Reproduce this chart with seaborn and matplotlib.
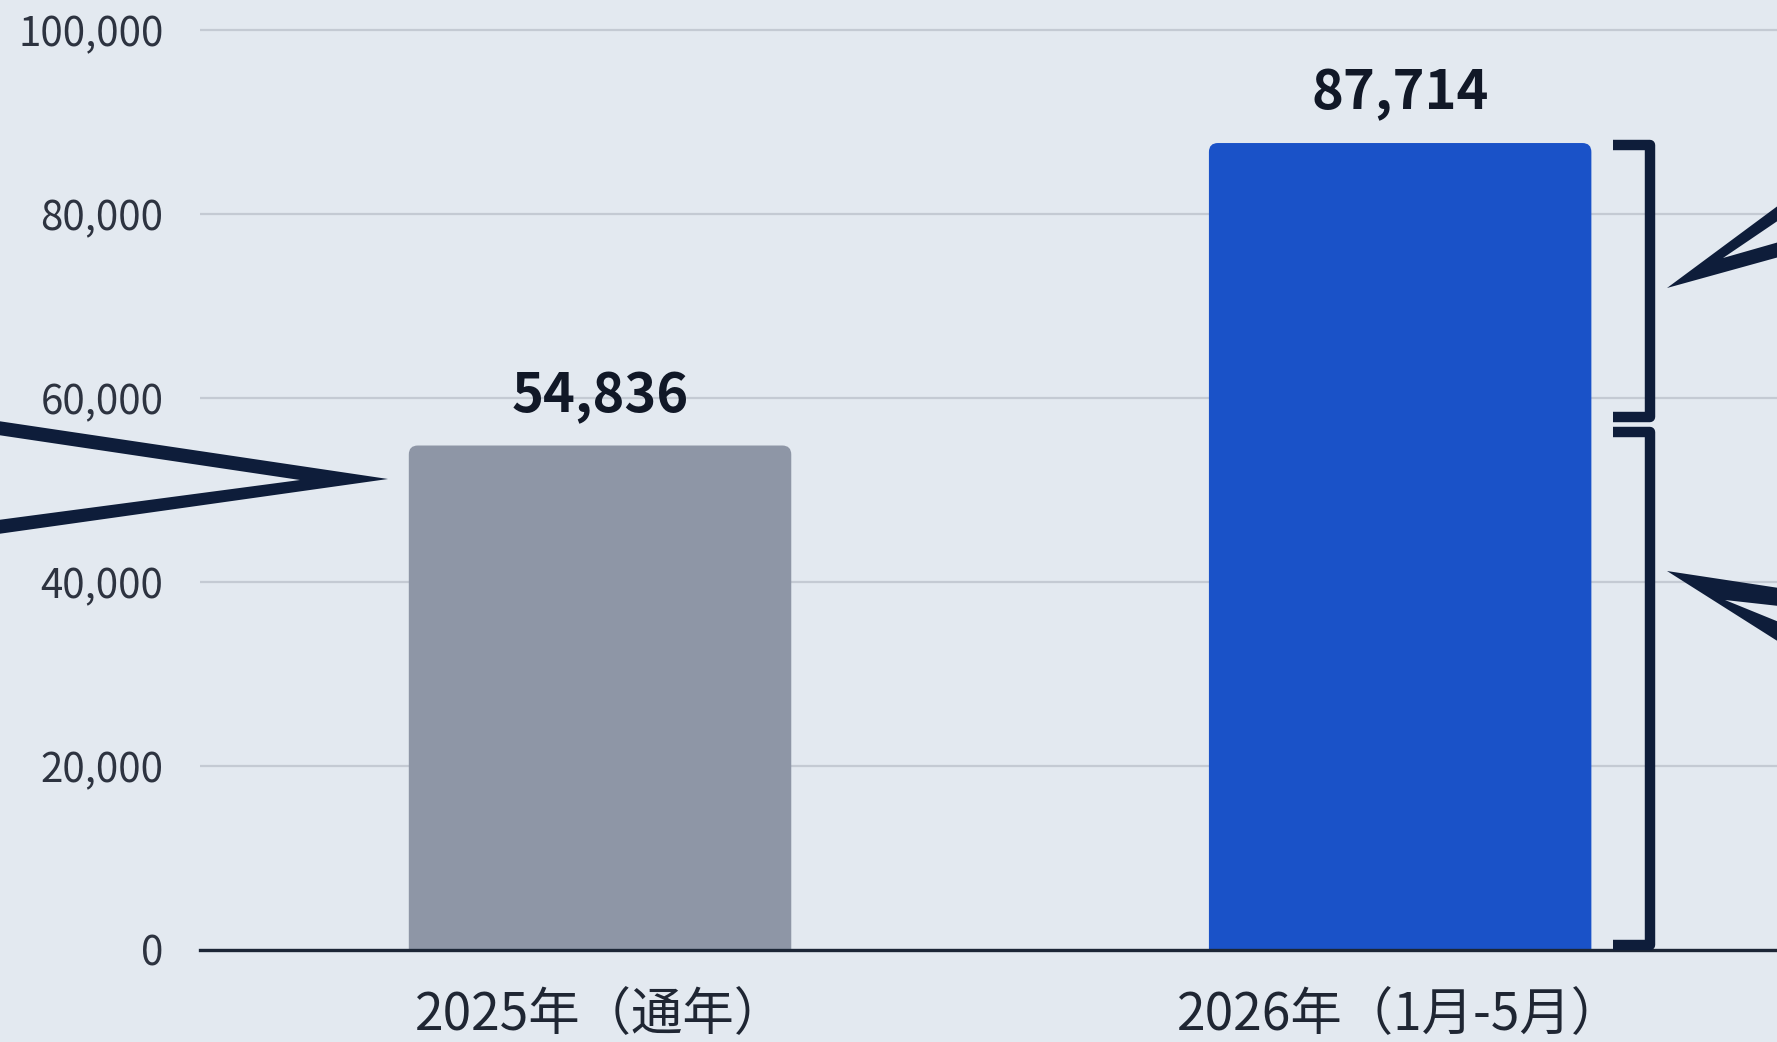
import matplotlib
matplotlib.use("Agg")
import matplotlib.pyplot as plt
import seaborn as sns
import pandas as pd
from matplotlib.patches import FancyBboxPatch, Polygon
from matplotlib.lines import Line2D
from matplotlib.transforms import Affine2D
from matplotlib.ticker import FuncFormatter

# ---- data ----
categories = ["2025年（通年）", "2026年（1月-5月）"]
values = [54836, 87714]
bar_colors = ["#8e96a6", "#1a52c8"]
y_ticks = [0, 20000, 40000, 60000, 80000, 100000]

# ---- style ----
sns.set_theme(style="white")
plt.rcParams['font.family'] = ['Noto Sans CJK JP', 'DejaVu Sans']

W, H = 1777, 1042
bg = "#e3e9f0"
ink = "#0e1d3a"
fig = plt.figure(figsize=(W / 100, H / 100), dpi=100)
fig.patch.set_facecolor(bg)

ax_left, ax_bottom_px = 199.5, 950
ax = fig.add_axes([ax_left / W, (H - ax_bottom_px) / H, (W - ax_left) / W, ax_bottom_px / H])
ax.set_facecolor(bg)

df = pd.DataFrame({"period": categories, "count": values})
sns.barplot(data=df, x="period", y="count", hue="period", palette=bar_colors,
            width=0.478, saturation=1, legend=False, ax=ax, zorder=3)

ax.set_xlim(-0.5006, 1.471)
ax.set_ylim(0, 103261)
ax.set_yticks(y_ticks)
ax.yaxis.set_major_formatter(FuncFormatter(lambda v, p: f"{int(v):,}"))
ax.set_xlabel("")
ax.set_ylabel("")
ax.yaxis.grid(True, color="#c4cad3", linewidth=1.6)
ax.xaxis.grid(False)
ax.set_axisbelow(True)
for s in ["left", "right", "top"]:
    ax.spines[s].set_visible(False)
ax.spines["bottom"].set_color("#1c2636")
ax.spines["bottom"].set_linewidth(2.4)
ax.spines["bottom"].set_zorder(5)
ax.tick_params(axis="y", length=0, pad=26, labelsize=29, labelcolor="#2d3340")
ax.tick_params(axis="x", length=0, pad=28, labelsize=37, labelcolor="#1f2633")

# rounded bar tops (rebuilt from the seaborn bars' own geometry)
fig.canvas.draw()
p0 = ax.transData.transform((0, 0))
p1 = ax.transData.transform((1, 1))
px_per_x = p1[0] - p0[0]
px_per_y = p1[1] - p0[1]
aspect = px_per_x / px_per_y
r_px = 9
rx = r_px / px_per_x
bars = list(ax.patches)
for b, v in zip(bars, values):
    x, w, h = b.get_x(), b.get_width(), b.get_height()
    fc = b.get_facecolor()
    b.remove()
    fb = FancyBboxPatch((x, -r_px / px_per_y), w, h + r_px / px_per_y,
                        boxstyle=f"round,pad=0,rounding_size={rx}",
                        mutation_aspect=aspect, facecolor=fc, edgecolor="none", zorder=3)
    ax.add_patch(fb)
    ax.annotate(f"{v:,}", xy=(x + w / 2, h), xytext=(0, 24), textcoords="offset points",
                ha="center", va="baseline", fontsize=39, fontweight="bold", color="#111827")

# decorations in figure pixel coordinates (from top-left)
pix = Affine2D().scale(1 / W, -1 / H).translate(0, 1) + fig.transFigure

# left callout wedge
left_wedge = [(-2, 421), (388, 479), (-2, 534), (-2, 520), (300, 480), (-2, 435)]
fig.add_artist(Polygon(left_wedge, closed=True, transform=pix, facecolor=ink,
                       edgecolor="none", zorder=10))

# right callout wedges
up_wedge = [(1779, 205), (1667, 288), (1779, 257), (1779, 242), (1723, 258), (1779, 220)]
low_wedge = [(1779, 588), (1667, 571), (1779, 642), (1779, 622), (1725, 600), (1779, 606)]
for poly in (up_wedge, low_wedge):
    fig.add_artist(Polygon(poly, closed=True, transform=pix, facecolor=ink,
                           edgecolor="none", zorder=10))

# brackets
br_kw = dict(transform=pix, color=ink, linewidth=7.5, solid_joinstyle="round",
             solid_capstyle="butt", zorder=10)
fig.add_artist(Line2D([1613, 1650, 1650, 1613], [145, 145, 417, 417], **br_kw))
fig.add_artist(Line2D([1613, 1650, 1650, 1613], [432, 432, 945, 945], **br_kw))

fig.savefig("out.png", dpi=100, facecolor=bg)
